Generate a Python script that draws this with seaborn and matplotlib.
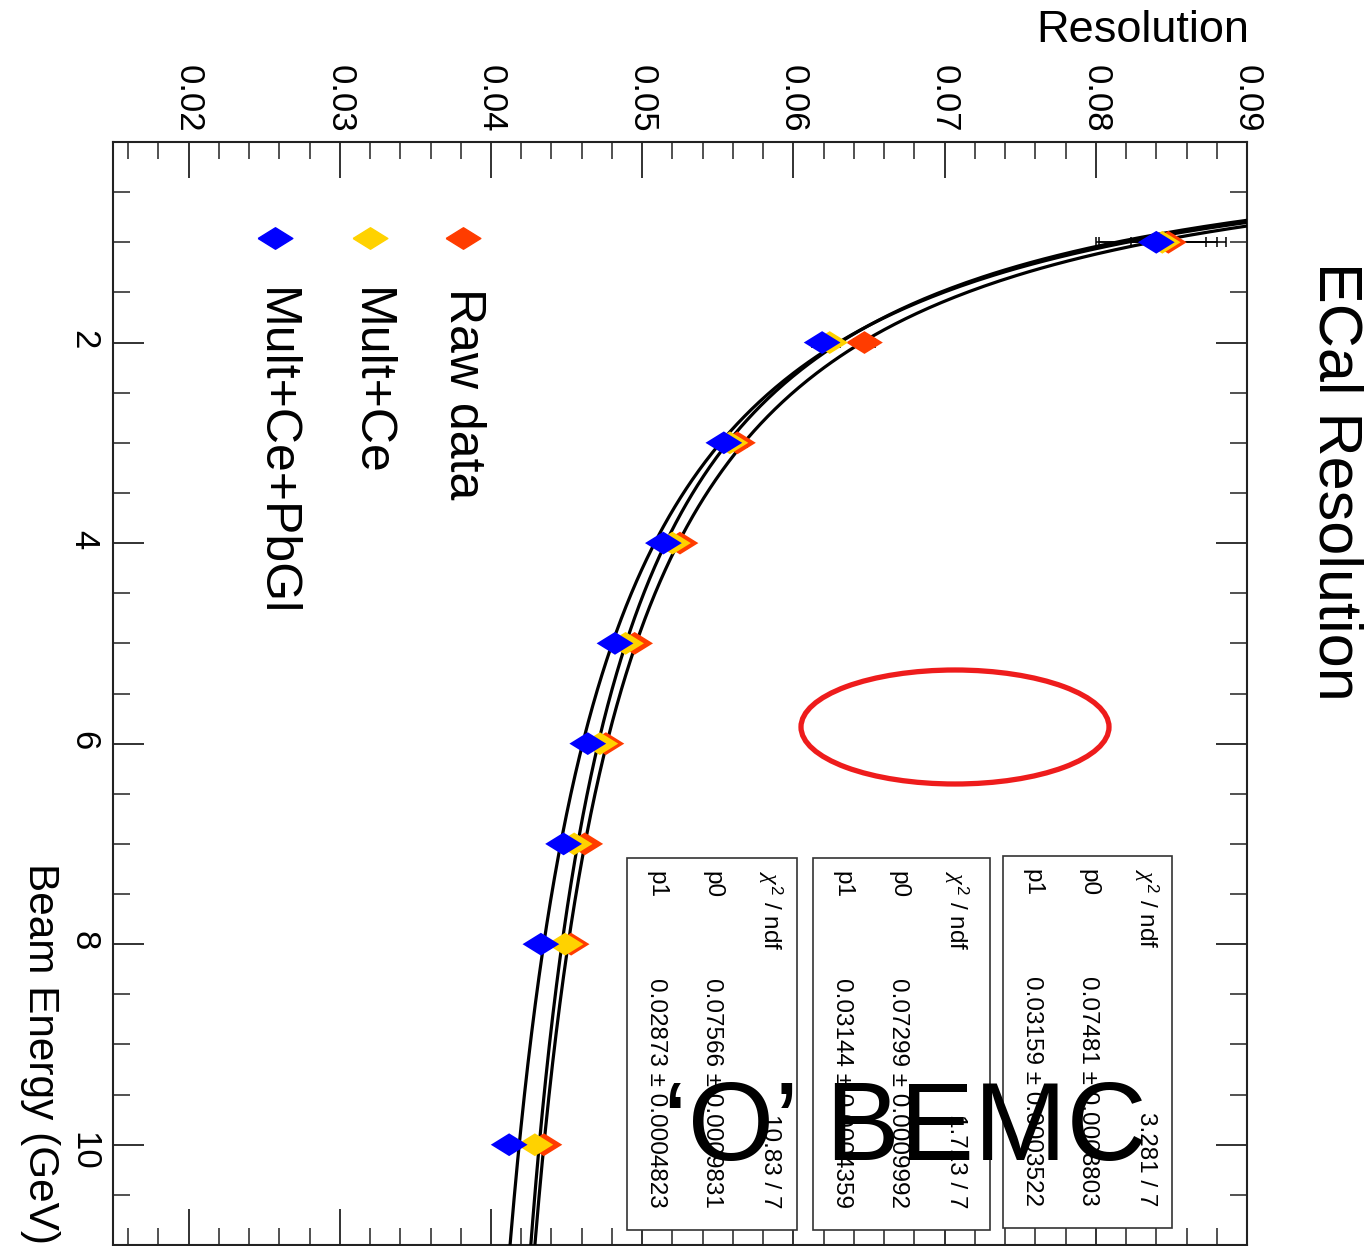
import numpy as np
import pandas as pd
import matplotlib
matplotlib.use("Agg")
import matplotlib.pyplot as plt
from matplotlib.patches import Rectangle, Ellipse
from matplotlib.ticker import MultipleLocator
import seaborn as sns

# ---------------- data ----------------
energy = [1, 2, 3, 4, 5, 6, 7, 8, 10]
series_names = ["Raw data", "Mult+Ce", "Mult+Ce+PbGl"]
series_colors = ["#FF3C00", "#FFD200", "#0000FF"]
res_raw = [0.0848, 0.0647, 0.0563, 0.0525, 0.0495, 0.0476, 0.0462, 0.0453, 0.0435]
res_mult_ce = [0.0844, 0.0624, 0.0558, 0.0520, 0.0489, 0.0472, 0.0455, 0.0449, 0.0429]
res_mult_ce_pbgl = [0.0840, 0.0619, 0.0554, 0.0514, 0.0482, 0.0464, 0.0448, 0.0433, 0.0412]
err_raw = [0.0025, 0.0007, 0.0006, 0.0005, 0.0005, 0.0005, 0.0005, 0.0005, 0.0005]
err_mult_ce = [0.0042, 0.0007, 0.0006, 0.0005, 0.0005, 0.0005, 0.0005, 0.0005, 0.0005]
err_mult_ce_pbgl = [0.0040, 0.0007, 0.0006, 0.0005, 0.0005, 0.0005, 0.0005, 0.0005, 0.0005]

res_ticks = [0.02, 0.03, 0.04, 0.05, 0.06, 0.07, 0.08, 0.09]
energy_ticks = [2, 4, 6, 8, 10]

# stats boxes (left -> right on the page)
stat_chi2 = ["10.83 / 7", "1.713 / 7", "3.281 / 7"]
stat_p0 = ["0.07566 \u00b1 0.0009831", "0.07299 \u00b1 0.0009992", "0.07481 \u00b1 0.0008803"]
stat_p1 = ["0.02873 \u00b1 0.0004823", "0.03144 \u00b1 0.0004359", "0.03159 \u00b1 0.0003522"]

title_text = "ECal Resolution"
xlabel_text = "Resolution"
ylabel_text = "Beam Energy (GeV)"
overlay_text = "\u2018O\u2019 BEMC"

# ---------------- figure ----------------
W, H = 1369, 1246
sns.set_theme(style="ticks")
plt.rcParams["font.family"] = ["Liberation Sans", "DejaVu Sans"]
plt.rcParams["mathtext.fontset"] = "custom"
plt.rcParams["mathtext.it"] = "Liberation Serif:italic"
plt.rcParams["mathtext.rm"] = "Liberation Sans"

fig = plt.figure(figsize=(W / 100, H / 100), dpi=100, facecolor="white")


def fx(px):
    return px / W


def fy(py):
    return 1 - py / H


ax_l, ax_r, ax_t, ax_b = 113, 1247, 142, 1245
ax = fig.add_axes([fx(ax_l), fy(ax_b), (ax_r - ax_l) / W, (ax_b - ax_t) / H])
ax.set_facecolor("white")

all_res = [res_raw, res_mult_ce, res_mult_ce_pbgl]
all_err = [err_raw, err_mult_ce, err_mult_ce_pbgl]

rows = []
for name, vals in zip(series_names, all_res):
    for e, r in zip(energy, vals):
        rows.append({"energy": e, "resolution": r, "series": name})
df = pd.DataFrame(rows)

# fit curves sigma^2 = a^2/E + b^2, weighted least squares from the data
E_arr = np.array(energy, dtype=float)
E_dense = np.linspace(0.5, 11.3, 600)
for vals, errs in zip(all_res, all_err):
    r = np.array(vals)
    s = 2 * r * np.array(errs)
    slope, intercept = np.polyfit(1.0 / E_arr, r ** 2, 1, w=1.0 / s)
    curve = np.sqrt(slope / E_dense + intercept)
    cdf = pd.DataFrame({"E": E_dense, "res": curve})
    sns.lineplot(data=cdf, x="res", y="E", sort=False, estimator=None,
                 color="black", linewidth=2.3, ax=ax, zorder=3)

# error bars
for vals, errs in zip(all_res, all_err):
    ax.errorbar(vals, energy, xerr=errs, fmt="none", ecolor="black",
                elinewidth=1.1, capsize=3.5, capthick=1.1, zorder=2)

# diamond markers (wide)
diamond = [(-1, 0), (0, 0.62), (1, 0), (0, -0.62), (-1, 0)]
sns.scatterplot(data=df, x="resolution", y="energy", hue="series",
                hue_order=series_names, palette=series_colors,
                marker=diamond, s=700, linewidth=0, legend=False, ax=ax, zorder=4)

# axes
ax.set_xlim(0.015, 0.09)
ax.set_ylim(11, 0)
ax.xaxis.set_major_locator(MultipleLocator(0.01))
ax.xaxis.set_minor_locator(MultipleLocator(0.002))
ax.yaxis.set_major_locator(MultipleLocator(2))
ax.yaxis.set_minor_locator(MultipleLocator(0.5))
ax.set_xticks(res_ticks)
ax.set_xticklabels([f"{v:.2f}" for v in res_ticks])
ax.set_yticks(energy_ticks)
ax.set_yticklabels([str(v) for v in energy_ticks])
ax.xaxis.tick_top()
ax.tick_params(axis="x", which="both", top=True, bottom=True, labeltop=True,
               labelbottom=False, direction="in", colors="#222222")
ax.tick_params(axis="y", which="both", left=True, right=True, labelleft=True,
               labelright=False, direction="in", colors="#222222")
ax.tick_params(axis="x", which="major", length=26, width=1.3, labelsize=25,
               labelrotation=270, pad=7, labelcolor="black")
ax.tick_params(axis="x", which="minor", length=12, width=1.1)
ax.tick_params(axis="y", which="major", length=22, width=1.3, labelsize=25,
               labelrotation=270, pad=9, labelcolor="black")
ax.tick_params(axis="y", which="minor", length=12, width=1.1)
ax.set_xlabel("")
ax.set_ylabel("")
for sp in ax.spines.values():
    sp.set_visible(True)
    sp.set_linewidth(1.5)
    sp.set_color("#222222")

# legend (drawn manually, rotated)
leg_x = [463, 370, 275]
for name, col, lx in zip(series_names, series_colors, leg_x):
    fig.add_artist(plt.Line2D([fx(lx)], [fy(238)], marker=diamond, markersize=25,
                              color=col, linestyle="none", transform=fig.transFigure))
    fig.text(fx(lx), fy(288), name, rotation=270, ha="center", va="top",
             fontsize=36, color="black")

# titles
fig.text(fx(1335), fy(262), title_text, rotation=270, ha="center", va="top",
         fontsize=44, color="black")
fig.text(fx(1249), fy(42), xlabel_text, ha="right", va="baseline",
         fontsize=32.5, color="black")
fig.text(fx(40), fy(1244), ylabel_text, rotation=270, ha="center", va="bottom",
         fontsize=30.5, color="black")

# stats boxes
box_left = [627, 813, 1003]
box_right = [797, 990, 1172]
box_top = [858, 858, 856]
box_bottom = [1230, 1230, 1228]
for i in range(3):
    l, r, t, b = box_left[i], box_right[i], box_top[i], box_bottom[i]
    fig.add_artist(Rectangle((fx(l), fy(b)), (r - l) / W, (b - t) / H,
                             transform=fig.transFigure, facecolor="white",
                             edgecolor="#333333", linewidth=1.2, zorder=5))
    rows_txt = [(r"$\chi^{2}$ / ndf", stat_chi2[i], l + 143),
                ("p0", stat_p0[i], l + 85),
                ("p1", stat_p1[i], l + 29)]
    for lab, val, cx in rows_txt:
        fig.text(fx(cx), fy(t + 13), lab, rotation=270, ha="center", va="top",
                 fontsize=17.5, color="black", zorder=6)
        fig.text(fx(cx), fy(b - 22), val, rotation=270, ha="center", va="bottom",
                 fontsize=17.5, color="black", zorder=6)

# overlay annotations
fig.text(fx(905), fy(1160), overlay_text, ha="center", va="baseline",
         fontsize=80, color="black", zorder=10)
fig.add_artist(Ellipse((fx(955), fy(727)), 308 / W, 114 / H, transform=fig.transFigure,
                       facecolor="none", edgecolor="#EE1C1C", linewidth=3.8, zorder=10))

fig.savefig("out.png", dpi=100, facecolor="white")
